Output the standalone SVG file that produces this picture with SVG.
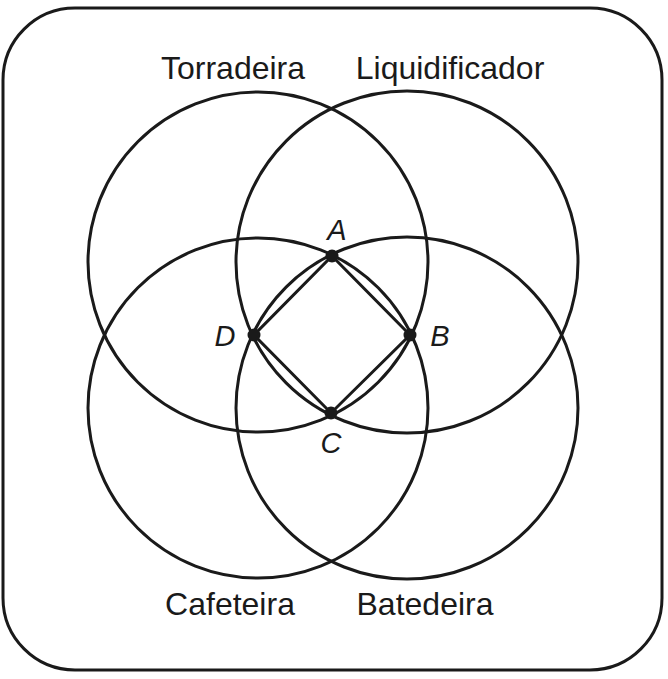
<svg xmlns="http://www.w3.org/2000/svg" width="668" height="679" viewBox="0 0 668 679">
<style>
.s{fill:none;stroke:#1a1a1a;stroke-width:3}
.t{font-family:"Liberation Sans",Arial,sans-serif;font-size:32px;fill:#1a1a1a;text-anchor:middle}
.i{font-style:italic;font-size:29px}
</style>
<rect width="668" height="679" fill="#fff"/>
<rect class="s" x="3" y="8" width="659" height="662" rx="72"/>
<circle class="s" cx="258" cy="262" r="170"/>
<circle class="s" cx="407" cy="262" r="171"/>
<circle class="s" cx="258" cy="408" r="170"/>
<circle class="s" cx="407" cy="408" r="171"/>
<polygon class="s" points="332,256 410,335 331,413 254,335"/>
<g fill="#1a1a1a">
<circle cx="332" cy="256" r="6.5"/><circle cx="410" cy="335" r="6.5"/>
<circle cx="331" cy="413" r="6.5"/><circle cx="254" cy="335" r="6.5"/>
</g>
<text class="t" x="233" y="79">Torradeira</text>
<text class="t" x="450" y="79">Liquidificador</text>
<text class="t" x="230" y="615">Cafeteira</text>
<text class="t" x="425" y="615">Batedeira</text>
<text class="t i" x="337" y="240">A</text>
<text class="t i" x="440" y="346">B</text>
<text class="t i" x="225" y="346">D</text>
<text class="t i" x="331" y="453">C</text>
</svg>
